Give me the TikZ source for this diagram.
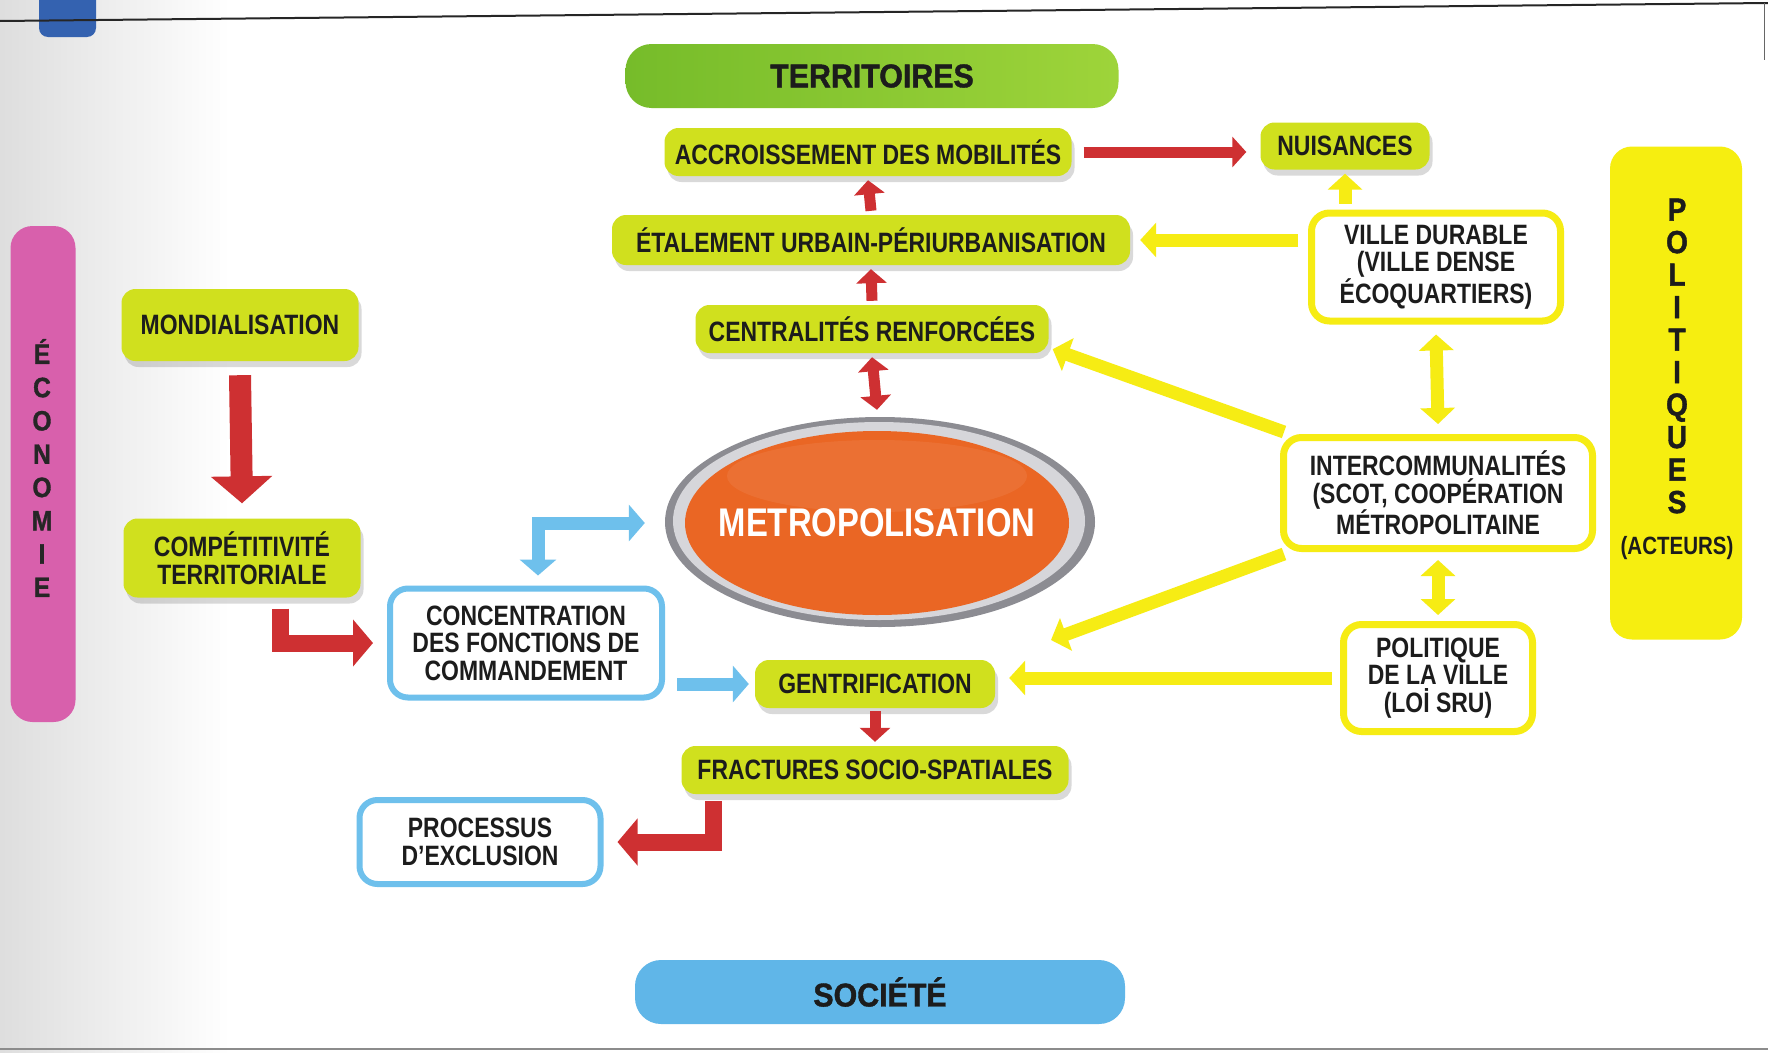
\documentclass[tikz,border=0pt]{standalone}
\usepackage{fontspec}
\setmainfont{Liberation Sans}
\newfontfamily\dinfont{Liberation Sans}[FakeStretch=0.82]
\newfontfamily\headfont{Liberation Sans}[FakeStretch=0.92, FakeBold=1.2]
\newfontfamily\polfont{Liberation Sans}[FakeStretch=0.88, FakeBold=1.2]
\usetikzlibrary{arrows.meta,shapes.geometric,shadows,calc}
\definecolor{cLime}{RGB}{208,224,30}
\definecolor{cText}{RGB}{28,28,28}
\definecolor{cYellow}{RGB}{246,236,20}
\definecolor{cBlueL}{RGB}{110,192,236}
\definecolor{cRed}{RGB}{206,48,50}
\definecolor{cOrange}{RGB}{234,102,36}
\definecolor{cGreenA}{RGB}{118,188,42}
\definecolor{cGreenB}{RGB}{158,212,58}
\definecolor{cSky}{RGB}{96,182,232}
\definecolor{cPink}{RGB}{216,96,172}
\definecolor{cPolY}{RGB}{246,238,16}
\definecolor{cRingD}{RGB}{140,140,146}
\definecolor{cRingL}{RGB}{214,214,218}
\definecolor{cTab}{RGB}{52,98,176}
\begin{document}
\begin{tikzpicture}[x=1pt,y=-1pt,
 txt/.style={text=cText, font=\dinfont\bfseries\fontsize{28}{27.5}\selectfont, align=center, inner sep=0pt},
 limebox/.style={txt, fill=cLime, rounded corners=14pt, drop shadow={shadow xshift=3pt, shadow yshift=-6pt, opacity=0.15, fill=black}},
 ybox/.style={txt, fill=white, draw=cYellow, line width=7pt, rounded corners=18pt},
 bbox/.style={txt, fill=white, draw=cBlueL, line width=6pt, rounded corners=18pt},
 headbar/.style={rounded corners=26pt, text=cText, font=\headfont\bfseries\fontsize{33}{33}\selectfont, inner sep=0pt},
 sidebar/.style={rounded corners=22pt, inner sep=0pt},
 redarr/.style={draw=cRed, line width=11pt, >={Triangle[width=30pt,length=14pt]}, ->},
 redbig/.style={draw=cRed, line width=22pt, >={Triangle[width=60pt,length=27pt]}, ->},
 redelb/.style={draw=cRed, line width=17pt, line join=miter, >={Triangle[width=46pt,length=20pt]}, ->},
 yarr/.style={draw=cYellow, line width=13pt, >={Triangle[width=34pt,length=16pt]}, ->},
 barr/.style={draw=cBlueL, line width=13pt, line join=miter, >={Triangle[width=36pt,length=16pt]}, ->}
]
\useasboundingbox (0,0) rectangle (1768,1052);
% background
\fill[white] (0,0) rectangle (1768,1052);
\shade[left color=black!13, right color=white] (0,0) rectangle (230,1052);
\fill[cTab, rounded corners=9pt] (39,-20) rectangle (96,37);
\draw[black!85, line width=2pt] (0,21) -- (1768,3);
\draw[black!60, line width=1pt] (1764,3) -- (1764,60);
\draw[black!45, line width=2pt] (0,1049) -- (1768,1049);

% side bars
\node[sidebar, fill=cPink, minimum width=65pt, minimum height=496pt] (eco) at (43,474) {};
\node[txt, font=\polfont\bfseries\fontsize{28}{33.3}\selectfont, text=black!85] (ecotxt) at (42,468) {É\\C\\O\\N\\O\\M\\I\\E};
\node[sidebar, fill=cPolY, minimum width=132pt, minimum height=493pt] (pol) at (1676,393) {};
\node[txt, font=\polfont\bfseries\fontsize{32}{32.5}\selectfont] (poltxt) at (1677,356) {P\\O\\L\\I\\T\\I\\Q\\U\\E\\S};
\node[txt, font=\dinfont\bfseries\fontsize{25}{25}\selectfont] (act) at (1677,548) {(ACTEURS)};

% header bars
\node[headbar, left color=cGreenA, right color=cGreenB, minimum width=493pt, minimum height=64pt] (terr) at (872,76) {TERRITOIRES};
\node[headbar, fill=cSky, minimum width=490pt, minimum height=64pt] (soc) at (880,992) {SOCIÉTÉ};

% metropolisation
\fill[cRingD] (880,522) ellipse [x radius=215, y radius=105];
\fill[cRingL] (879,521) ellipse [x radius=206, y radius=99];
\fill[cOrange] (877,523) ellipse [x radius=192, y radius=92];
\fill[white, opacity=0.07] (877,476) ellipse [x radius=150, y radius=36];
\node[minimum width=384pt, minimum height=184pt, inner sep=0pt, text=white, font=\dinfont\bfseries\fontsize{40}{40}\selectfont] (metro) at (877,523) {METROPOLISATION};

% boxes
\node[limebox, minimum width=407pt, minimum height=48pt] (accr) at (868,152) {ACCROISSEMENT DES MOBILITÉS};
\node[limebox, minimum width=169pt, minimum height=47pt] (nuis) at (1345,146) {NUISANCES};
\node[limebox, minimum width=518pt, minimum height=50pt] (etal) at (871,240) {ÉTALEMENT URBAIN-PÉRIURBANISATION};
\node[ybox, minimum width=249pt, minimum height=108pt] (ville) at (1436,267) {VILLE DURABLE\\(VILLE DENSE\\ÉCOQUARTIERS)};
\node[limebox, minimum width=353pt, minimum height=48pt] (cent) at (872,329) {CENTRALITÉS RENFORCÉES};
\node[limebox, minimum width=237pt, minimum height=72pt] (mond) at (240,325) {MONDIALISATION};
\node[limebox, minimum width=237pt, minimum height=79pt] (comp) at (242,558) {COMPÉTITIVITÉ\\TERRITORIALE};
\node[bbox, minimum width=272pt, minimum height=109pt] (conc) at (526,643) {CONCENTRATION\\DES FONCTIONS DE\\COMMANDEMENT};
\node[limebox, minimum width=240pt, minimum height=48pt] (gent) at (875,684) {GENTRIFICATION};
\node[limebox, minimum width=387pt, minimum height=48pt] (frac) at (875,770) {FRACTURES SOCIO-SPATIALES};
\node[bbox, minimum width=241pt, minimum height=84pt] (proc) at (480,842) {PROCESSUS\\D’EXCLUSION};
\node[ybox, minimum width=309pt, minimum height=111pt] (inter) at (1438,493) {INTERCOMMUNALITÉS\\(SCOT, COOPÉRATION\\MÉTROPOLITAINE};
\node[ybox, minimum width=189pt, minimum height=107pt] (polv) at (1438,678) {POLITIQUE\\DE LA VILLE\\(LOİ SRU)};
\coordinate (lowtip) at (1051,640);

% red arrows
\draw[redarr] ($(accr.east)+(12,0)$) -- ($(nuis.west |- accr.east)+(-14,0)$);
\draw[redarr] ($(etal.north)+(0,-4)$) -- ($(accr.south)+(0,4)$);
\draw[redarr] ($(cent.north)+(0,-4)$) -- ($(etal.south)+(0,4)$);
\draw[redarr, <->] ($(cent.south)+(0,4)$) -- ($(metro.north)+(0,-21)$);
\draw[redbig] ($(mond.south)+(0,14)$) -- ($(comp.north)+(0,-15)$);
\draw[redelb] ($(comp.south)+(38,11)$) |- ($(conc.west)+(-14,0)$);
\draw[redarr] ($(gent.south)+(0,3)$) -- ($(frac.north)+(0,-4)$);
\draw[redelb] ($(frac.south)+(-162,7)$) |- ($(proc.east)+(14,0)$);

% blue arrows
\draw[barr, <->] ($(conc.north)+(12,-10)$) |- ($(metro.west)+(-40,0)$);
\draw[barr] ($(conc.east |- gent.west)+(12,0)$) -- ($(gent.west)+(-6,0)$);

% yellow arrows
\draw[yarr] ($(ville.west |- etal.east)+(-10,0)$) -- ($(etal.east)+(10,0)$);
\draw[yarr] ($(nuis.south |- ville.north)+(0,-6)$) -- ($(nuis.south)+(0,4)$);
\draw[yarr] ($(inter.north west)+(4,-2)$) -- ($(cent.south east)+(4,-4)$);
\draw[yarr] ($(inter.south west)+(4,2)$) -- (lowtip);
\draw[yarr] ($(polv.west)+(-8,0)$) -- ($(gent.east |- polv.west)+(14,0)$);
\draw[yarr, <->] ($(ville.south)+(0,10)$) -- ($(inter.north)+(0,-10)$);
\draw[yarr, <->] ($(inter.south)+(0,8)$) -- ($(polv.north)+(0,-6)$);
\end{tikzpicture}
\end{document}
